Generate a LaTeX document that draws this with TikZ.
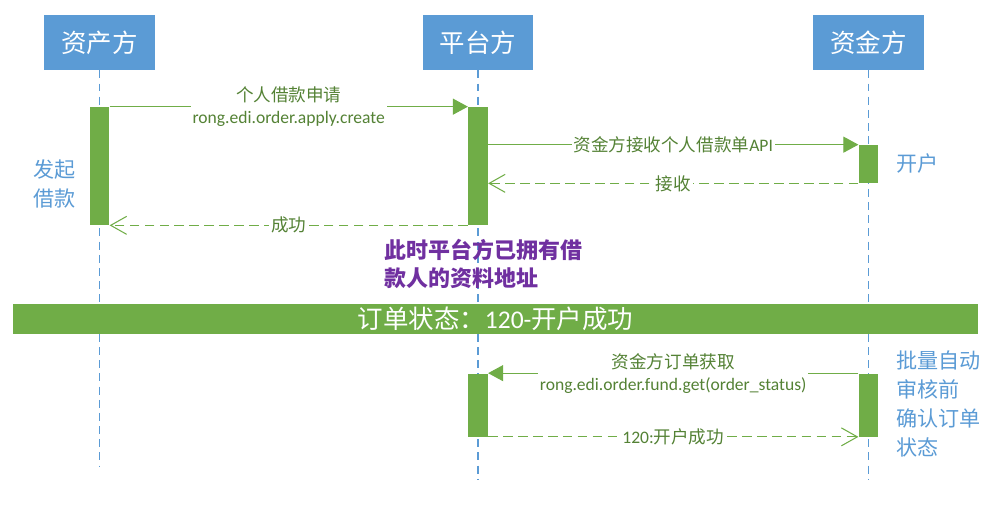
\documentclass[tikz,border=0pt]{standalone}
\usepackage{fontspec}
\setmainfont{Carlito}
\newfontfamily\cjk{Noto Sans CJK SC}
\usetikzlibrary{arrows.meta}

\definecolor{hdblue}{RGB}{91,155,213}
\definecolor{actgreen}{RGB}{112,173,71}
\definecolor{lblgreen}{RGB}{84,130,53}
\definecolor{notepurple}{RGB}{112,48,160}

\tikzset{
    head/.style={fill=hdblue, text=white, minimum width=2.22cm, minimum height=1.1cm, font=\cjk\fontsize{14.5}{16}\selectfont},
    life/.style={hdblue, line width=0.6pt, dash pattern=on 4.5pt off 3pt},
    actbar/.style={fill=actgreen, draw=none, minimum width=0.39cm, inner sep=0pt},
    msg/.style={actgreen, line width=0.6pt, -{Triangle[length=0.3cm, width=0.32cm]}},
    reply/.style={actgreen, line width=0.6pt, dash pattern=on 5.5pt off 3pt, -{Straight Barb[length=0.32cm, width=0.36cm]}},
    lbl/.style={fill=white, text=lblgreen, inner sep=1pt, align=center, font=\fontsize{10}{12.5}\selectfont},
    side/.style={text=hdblue, align=left, anchor=west, inner sep=0pt, font=\cjk\fontsize{12}{16.5}\selectfont}
}

\begin{document}
\begin{tikzpicture}[x=0.02cm, y=-0.02cm]
        \useasboundingbox (0,0) rectangle (993,508);

        % Acteurs
        \node [head] (ast) at (99.5, 42.5) {资产方};
        \node [head] (plt) at (478, 42.5) {平台方};
        \node [head] (fnd) at (868.5, 42.5) {资金方};

        % Lignes de vie
        \draw [life] (ast.south) -- (99.5, 467);
        \draw [life] (plt.south) -- (478, 480);
        \draw [life] (fnd.south) -- (868.5, 480);

        % Activations
        \node [actbar, minimum height=2.36cm] (a1) at (99.5, 166) {};
        \node [actbar, minimum height=2.36cm] (p1) at (478, 166) {};
        \node [actbar, minimum height=0.76cm] (f1) at (868.5, 164) {};
        \node [actbar, minimum height=1.26cm] (p2) at (478, 405) {};
        \node [actbar, minimum height=1.26cm] (f2) at (868.5, 405) {};

        % Messages
        \draw [msg] (a1.north east) -- (p1.north west)
            node [lbl, midway] {{\cjk 个人借款申请}\\rong.edi.order.apply.create};
        \draw [msg] (p1.east |- f1.north west) -- (f1.north west)
            node [lbl, midway] {{\cjk 资金方接收个人借款单}API};
        \draw [reply] (f1.south west) -- (p1.east |- f1.south west)
            node [lbl, midway] {\cjk 接收};
        \draw [reply] (p1.south west) -- (a1.south east)
            node [lbl, midway] {\cjk 成功};
        \draw [msg] (f2.north west) -- (p2.north east)
            node [lbl, midway] {{\cjk 资金方订单获取}\\rong.edi.order.fund.get(order\_status)};
        \draw [reply] (p2.south east) -- (f2.south west)
            node [lbl, midway] {120:{\cjk 开户成功}};

        % Annotations
        \node [side] (start) at (33, 184) {发起\\借款};
        \node [side] (open) at (896, 163) {开户};
        \node [side] (check) at (896, 404) {批量自动\\审核前\\确认订单\\状态};
        \node [text=notepurple, align=left, anchor=west, inner sep=0pt,
            font=\cjk\bfseries\fontsize{12.5}{16}\selectfont] (note) at (384, 264)
            {此时平台方已拥有借\\款人的资料地址};

        % Etat de la commande
        \node [fill=actgreen, text=white, minimum width=19.3cm, minimum height=0.6cm, inner sep=0pt,
            font=\fontsize{14.5}{16}\selectfont] (state) at (495.5, 319)
            {{\cjk 订单状态：}120-{\cjk 开户成功}};
\end{tikzpicture}
\end{document}
